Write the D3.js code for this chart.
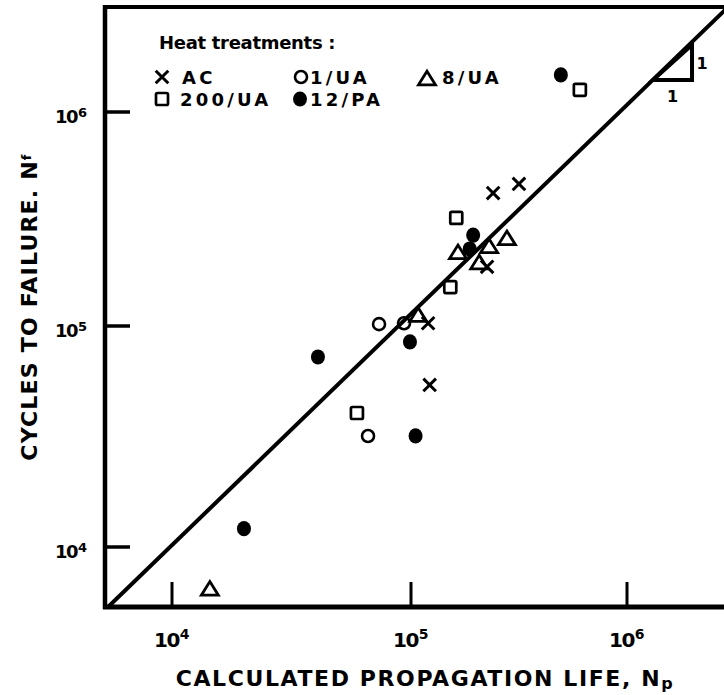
<!DOCTYPE html>
<html><head><meta charset="utf-8">
<script src="https://cdn.jsdelivr.net/npm/d3@7"></script>
<style>html,body{margin:0;padding:0;background:#fff;} svg{display:block;}</style>
</head><body><svg id="chart" width="724" height="695"></svg>
<script>
// ---------------- data ----------------
const tickValues = [1e4, 1e5, 1e6];
const tickExponents = ["4", "5", "6"];

// AC (x marks)
const acNp = [2.40e5, 3.16e5, 2.25e5, 1.20e5, 1.22e5];
const acNf = [4.18e5, 4.61e5, 1.89e5, 1.03e5, 5.41e4];
// 1/UA (open circles)
const ua1Np = [7.35e4, 9.35e4, 6.61e4];
const ua1Nf = [1.02e5, 1.03e5, 3.18e4];
// 8/UA (open triangles)
const ua8Np = [2.78e5, 2.30e5, 1.65e5, 2.07e5, 1.08e5, 1.44e4];
const ua8Nf = [2.58e5, 2.37e5, 2.22e5, 1.99e5, 1.13e5, 6.5e3];
// 200/UA (open squares)
const ua200Np = [1.62e5, 1.52e5, 5.94e4, 6.05e5];
const ua200Nf = [3.20e5, 1.52e5, 4.04e4, 1.27e6];
// 12/PA (filled circles)
const pa12Np = [4.94e5, 1.94e5, 1.87e5, 9.9e4, 4.08e4, 1.05e5, 2.0e4];
const pa12Nf = [1.49e6, 2.66e5, 2.29e5, 8.47e4, 7.24e4, 3.18e4, 1.21e4];

// 1:1 line and slope triangle
const lineNp = [5.4e3, 3.0e6];
const lineNf = [5.35e3, 3.16e6];
const slopeNp = [1.32e6, 2.0e6, 2.0e6];
const slopeNf = [1.41e6, 1.41e6, 2.06e6];

const legendTitle = "Heat treatments :";
const legendLabels = ["AC", "1/UA", "8/UA", "200/UA", "12/PA"];
const xTitle = "CALCULATED PROPAGATION LIFE, N";
const xTitleSub = "p";
const yTitle = "CYCLES TO FAILURE. N";
const yTitleSub = "f";

// ---------------- layout ----------------
const FONT = "'DejaVu Sans', sans-serif";
const frame = {left: 105, top: 7, bottom: 607, right: 745};
const svg = d3.select("#chart");
svg.append("rect").attr("width", 724).attr("height", 695).attr("fill", "#fff");

const x = d3.scaleLog().domain(tickValues).range([172, 411, 627]);
const y = d3.scaleLog().domain(tickValues).range([547, 326, 112]);

const zip = (a, b) => a.map((v, i) => [v, b[i]]);

// clip
svg.append("clipPath").attr("id", "plotclip").append("rect")
  .attr("x", frame.left).attr("y", frame.top)
  .attr("width", frame.right - frame.left).attr("height", frame.bottom - frame.top);

// frame
svg.append("line").attr("x1", frame.left).attr("x2", frame.right)
  .attr("y1", frame.top).attr("y2", frame.top)
  .attr("stroke", "#000").attr("stroke-width", 4);
svg.append("line").attr("x1", frame.left).attr("x2", frame.left)
  .attr("y1", frame.top - 2).attr("y2", frame.bottom + 2)
  .attr("stroke", "#000").attr("stroke-width", 4.5);
svg.append("line").attr("x1", frame.left - 2).attr("x2", frame.right)
  .attr("y1", frame.bottom).attr("y2", frame.bottom)
  .attr("stroke", "#000").attr("stroke-width", 5);

// ticks (inward)
const tickLen = 25;
svg.selectAll(".xt").data(tickValues).enter().append("line")
  .attr("x1", d => x(d)).attr("x2", d => x(d))
  .attr("y1", frame.bottom).attr("y2", frame.bottom - tickLen)
  .attr("stroke", "#000").attr("stroke-width", 3);
svg.selectAll(".yt").data(tickValues).enter().append("line")
  .attr("y1", d => y(d)).attr("y2", d => y(d))
  .attr("x1", frame.left).attr("x2", frame.left + tickLen)
  .attr("stroke", "#000").attr("stroke-width", 3.5);

// tick labels
const xl = svg.selectAll(".xl").data(tickValues).enter().append("text")
  .attr("x", d => x(d) - 18).attr("y", 647)
  .attr("font-family", FONT).attr("font-weight", "bold").attr("font-size", 20)
  .attr("letter-spacing", -1.5);
xl.append("tspan").text("10");
xl.append("tspan").attr("dy", -8).attr("font-size", 14).attr("dx", 1).text((d, i) => tickExponents[i]);

const yl = svg.selectAll(".yl").data(tickValues).enter().append("text")
  .attr("x", 55).attr("y", d => y(d) + 11)
  .attr("font-family", FONT).attr("font-weight", "bold").attr("font-size", 18)
  .attr("letter-spacing", -1.5);
yl.append("tspan").text("10");
yl.append("tspan").attr("dy", -6).attr("dx", 1).attr("font-size", 13).text((d, i) => tickExponents[i]);

// axis titles
const xt = svg.append("text").attr("x", 425).attr("y", 686)
  .attr("text-anchor", "middle").attr("font-family", FONT).attr("font-weight", "bold")
  .attr("font-size", 22).attr("letter-spacing", 1.6);
xt.append("tspan").text(xTitle);
xt.append("tspan").attr("font-size", 16).attr("dy", 3).text(xTitleSub);

const yt = svg.append("text").attr("transform", "translate(37,307) rotate(-90)")
  .attr("text-anchor", "middle").attr("font-family", FONT).attr("font-weight", "bold")
  .attr("font-size", 22).attr("letter-spacing", 1.2);
yt.append("tspan").text(yTitle);
yt.append("tspan").attr("font-size", 13).attr("dy", -6).text(yTitleSub);

// 1:1 line
const lineGen = d3.line().x(d => x(d[0])).y(d => y(d[1]));
svg.append("path").datum(zip(lineNp, lineNf)).attr("d", lineGen)
  .attr("clip-path", "url(#plotclip)")
  .attr("fill", "none").attr("stroke", "#000").attr("stroke-width", 4);

// slope triangle
svg.append("path").datum(zip(slopeNp, slopeNf)).attr("d", d => lineGen(d) + "Z")
  .attr("fill", "none").attr("stroke", "#000").attr("stroke-width", 4)
  .attr("stroke-linejoin", "miter");
svg.append("text").attr("x", (x(slopeNp[0]) + x(slopeNp[1])) / 2).attr("y", y(slopeNf[0]) + 22)
  .attr("text-anchor", "middle").attr("font-family", FONT).attr("font-weight", "bold")
  .attr("font-size", 16).text("1");
svg.append("text").attr("x", x(slopeNp[2]) + 10).attr("y", (y(slopeNf[1]) + y(slopeNf[2])) / 2 + 7)
  .attr("text-anchor", "middle").attr("font-family", FONT).attr("font-weight", "bold")
  .attr("font-size", 16).text("1");

// ---------------- markers ----------------
function drawX(g, cx, cy) {
  const s = 6.3;
  g.append("path").attr("d", `M${cx - s},${cy - s}L${cx + s},${cy + s}M${cx - s},${cy + s}L${cx + s},${cy - s}`)
    .attr("stroke", "#000").attr("stroke-width", 3).attr("fill", "none");
}
function drawCircle(g, cx, cy) {
  g.append("circle").attr("cx", cx).attr("cy", cy).attr("r", 6)
    .attr("fill", "none").attr("stroke", "#000").attr("stroke-width", 2.6);
}
function drawTri(g, cx, cy) {
  const w = 8.5, h = 6.8;
  g.append("path").attr("d", `M${cx},${cy - h}L${cx + w},${cy + h}L${cx - w},${cy + h}Z`)
    .attr("fill", "none").attr("stroke", "#000").attr("stroke-width", 2.8).attr("stroke-linejoin", "miter");
}
function drawSquare(g, cx, cy) {
  const s = 12;
  g.append("rect").attr("x", cx - s / 2).attr("y", cy - s / 2).attr("width", s).attr("height", s)
    .attr("rx", 1.5).attr("fill", "none").attr("stroke", "#000").attr("stroke-width", 2.7);
}
function drawDot(g, cx, cy) {
  g.append("ellipse").attr("cx", cx).attr("cy", cy).attr("rx", 7).attr("ry", 7.6).attr("fill", "#000");
}

const series = [
  {np: acNp, nf: acNf, draw: drawX},
  {np: ua1Np, nf: ua1Nf, draw: drawCircle},
  {np: ua8Np, nf: ua8Nf, draw: drawTri},
  {np: ua200Np, nf: ua200Nf, draw: drawSquare},
  {np: pa12Np, nf: pa12Nf, draw: drawDot}
];
const pts = svg.append("g");
series.forEach(s => s.np.forEach((v, i) => s.draw(pts, x(v), y(s.nf[i]))));

// ---------------- legend ----------------
const lg = svg.append("g");
lg.append("text").attr("x", 159).attr("y", 49).attr("font-family", FONT).attr("font-weight", "bold")
  .attr("font-size", 18).attr("letter-spacing", -0.3).text(legendTitle);
const legendItems = [
  {mx: 162, my: 77, tx: 182, ty: 84, draw: drawX},
  {mx: 301, my: 77, tx: 310, ty: 84, draw: drawCircle},
  {mx: 427, my: 78, tx: 442, ty: 84, draw: drawTri},
  {mx: 162, my: 99, tx: 180, ty: 106, draw: drawSquare},
  {mx: 300, my: 99, tx: 310, ty: 106, draw: drawDot}
];
legendItems.forEach((it, i) => {
  it.draw(lg, it.mx, it.my);
  lg.append("text").attr("x", it.tx).attr("y", it.ty).attr("font-family", FONT).attr("font-weight", "bold")
    .attr("font-size", 18).attr("letter-spacing", 3.2).text(legendLabels[i]);
});
</script>
</body></html>
